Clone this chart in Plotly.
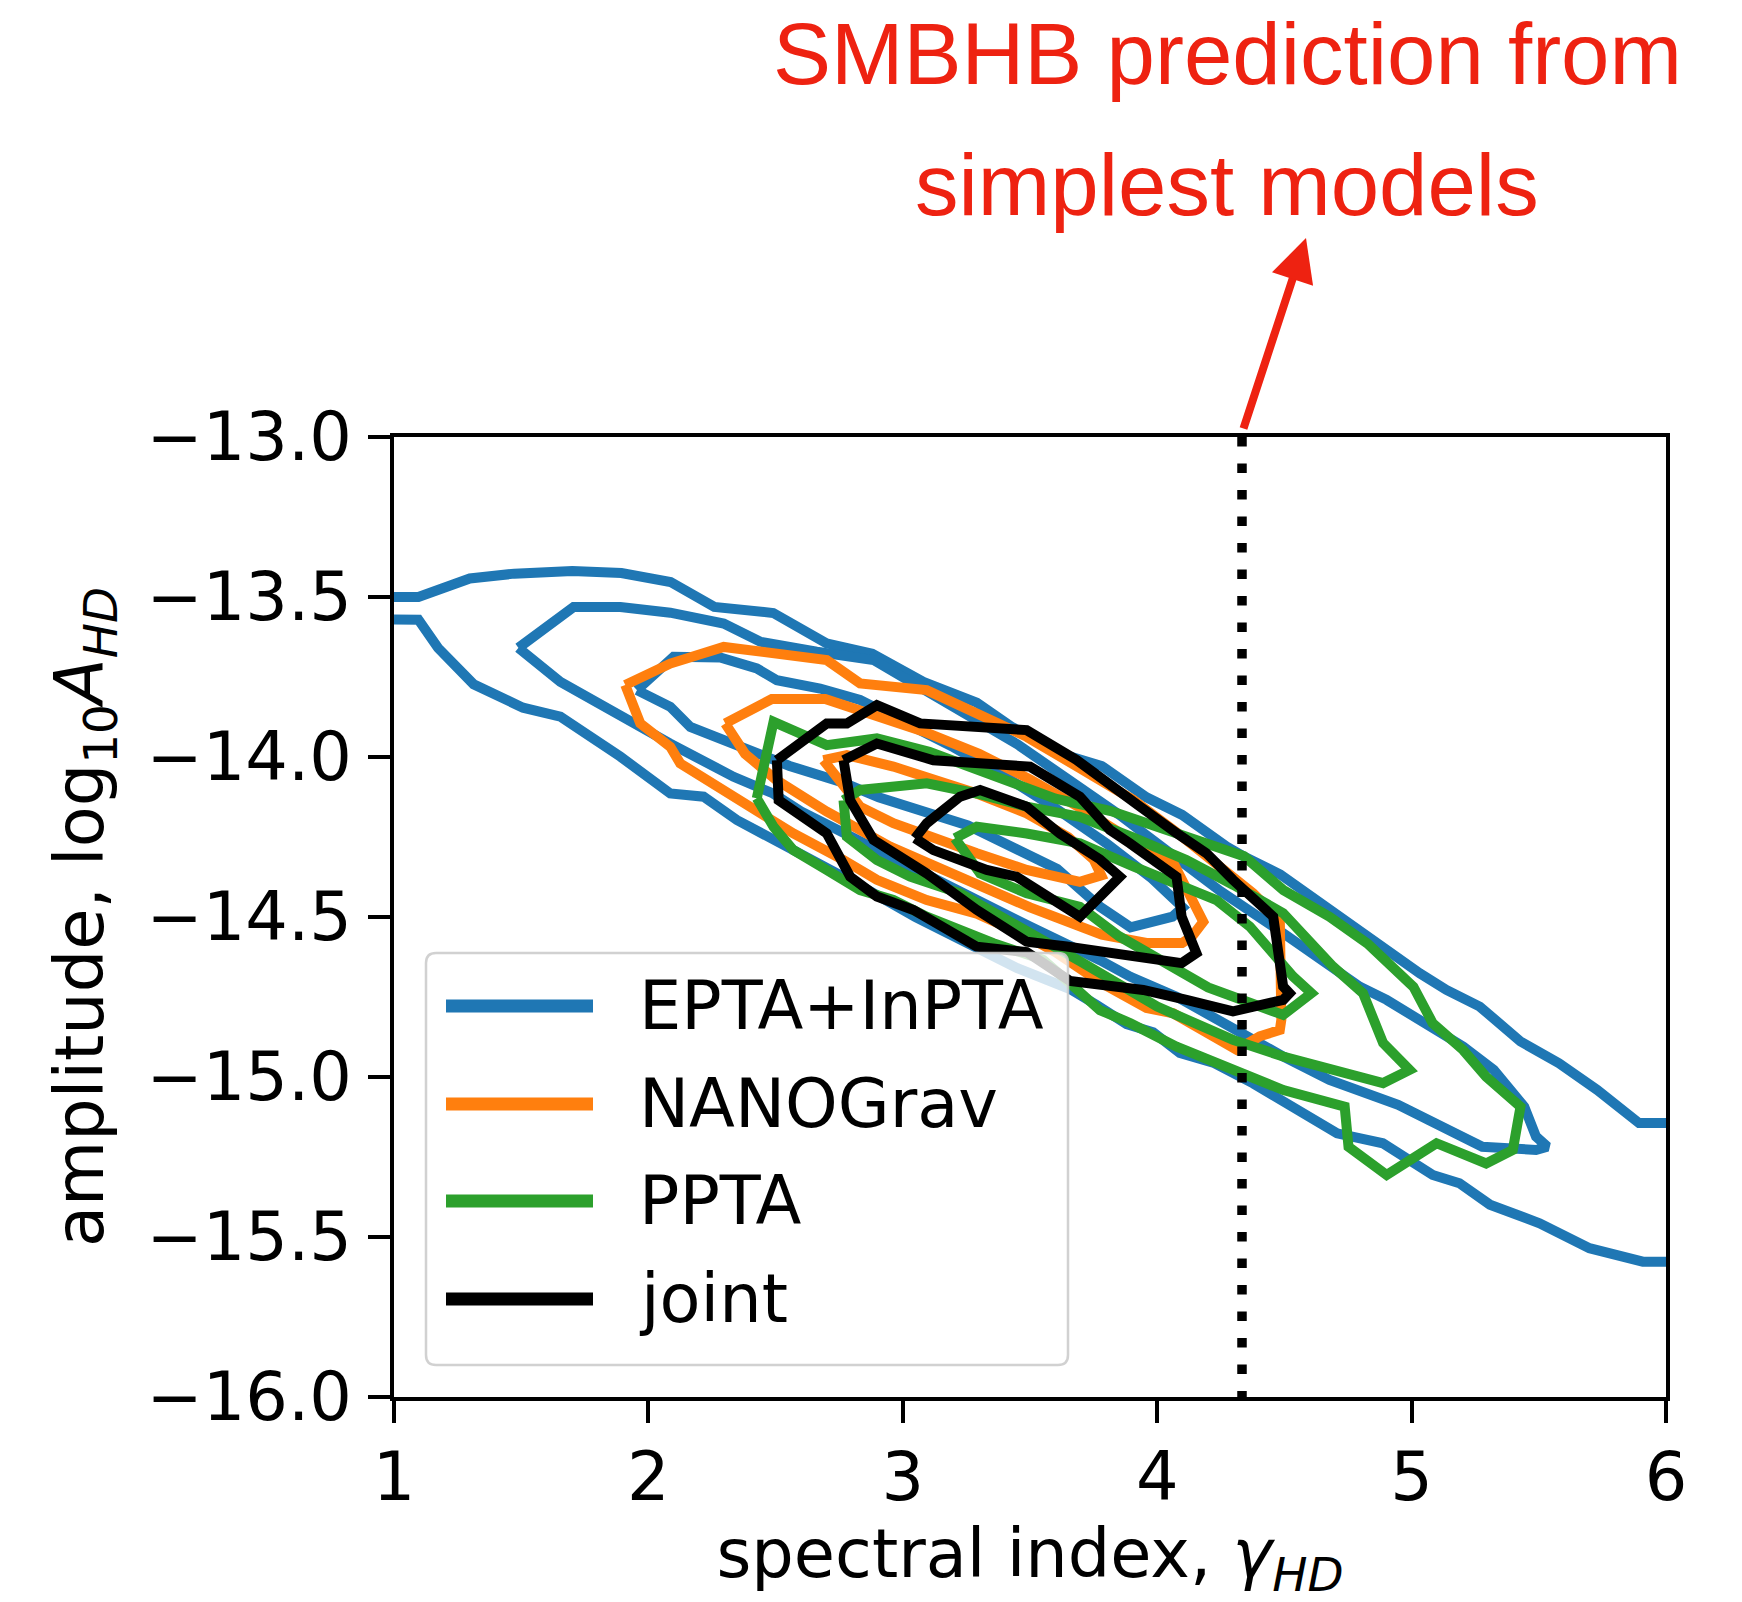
import plotly.graph_objects as go

# ---------------- data ----------------
series_names = ["EPTA+InPTA", "NANOGrav", "PPTA", "joint"]
series_colors = ["#1f77b4", "#ff7f0e", "#2ca02c", "#000000"]

x_ticks = [1, 2, 3, 4, 5, 6]
y_ticks = [-13.0, -13.5, -14.0, -14.5, -15.0, -15.5, -16.0]
y_ticktext = ["\u221213.0", "\u221213.5", "\u221214.0", "\u221214.5", "\u221215.0", "\u221215.5", "\u221216.0"]

smbhb_gamma = 13 / 3  # SMBHB prediction, gamma = 13/3

# EPTA+InPTA outer contour (open at the plot edges): upper and lower branches
epta_outer_top_x = [1.0, 1.096, 1.298, 1.473, 1.701, 1.894, 2.087, 2.259, 2.491, 2.700, 2.880, 3.081, 3.291, 3.431,
                    3.642, 3.782, 3.958, 4.098, 4.273, 4.343, 4.484, 4.639, 4.770, 4.901, 5.032, 5.137, 5.268, 5.428,
                    5.579, 5.729, 5.894, 6.0]
epta_outer_top_y = [-13.50, -13.50, -13.442, -13.427, -13.419, -13.425, -13.453, -13.531, -13.550, -13.645, -13.677,
                    -13.765, -13.830, -13.907, -13.995, -14.028, -14.126, -14.181, -14.280, -14.312, -14.367, -14.457,
                    -14.530, -14.603, -14.676, -14.728, -14.780, -14.889, -14.957, -15.040, -15.144, -15.144]
epta_outer_bot_x = [6.0, 5.909, 5.699, 5.503, 5.308, 5.188, 5.083, 4.887, 4.707, 4.527, 4.377, 4.22, 4.089, 3.984,
                    3.880, 3.762, 3.657, 3.45, 3.25, 3.05, 2.85, 2.649, 2.505, 2.348, 2.217, 2.086, 1.890, 1.654,
                    1.507, 1.313, 1.173, 1.096, 1.0]
epta_outer_bot_y = [-15.577, -15.577, -15.535, -15.457, -15.399, -15.332, -15.306, -15.207, -15.176, -15.087, -15.02,
                    -14.955, -14.925, -14.86, -14.835, -14.775, -14.725, -14.66, -14.58, -14.50, -14.41, -14.322,
                    -14.260, -14.197, -14.124, -14.114, -13.999, -13.874, -13.846, -13.773, -13.659, -13.571, -13.57]

epta_mid_x = [1.489, 1.706, 1.890, 2.086, 2.296, 2.44, 2.662, 2.885, 3.042, 3.25, 3.45, 3.65, 3.85, 4.05, 4.25,
              4.496, 4.647, 4.797, 4.902, 5.068, 5.203, 5.323, 5.443, 5.489, 5.534, 5.489, 5.278, 4.947, 4.677,
              4.496, 4.286, 4.076, 3.895, 3.775, 3.5, 3.2, 2.9, 2.6, 2.49, 2.335, 2.086, 1.916, 1.785, 1.654]
epta_mid_y = [-13.659, -13.531, -13.531, -13.549, -13.583, -13.64, -13.671, -13.697, -13.77, -13.87, -13.96, -14.07,
              -14.18, -14.30, -14.42, -14.551, -14.635, -14.718, -14.759, -14.843, -14.905, -14.978, -15.093, -15.186,
              -15.218, -15.228, -15.218, -15.087, -15.009, -14.936, -14.843, -14.749, -14.687, -14.635, -14.53,
              -14.41, -14.29, -14.17, -14.114, -14.062, -13.958, -13.885, -13.822, -13.765]

epta_in_x = [1.955, 2.099, 2.282, 2.426, 2.505, 2.675, 2.832, 3.0, 3.2, 3.4, 3.6, 3.8, 3.98, 4.10, 4.06, 3.895,
             3.775, 3.607, 3.4, 3.256, 2.905, 2.767, 2.555, 2.348, 2.165, 2.086]
epta_in_y = [-13.791, -13.687, -13.689, -13.723, -13.760, -13.786, -13.822, -13.89, -13.97, -14.06, -14.16, -14.27,
             -14.38, -14.47, -14.499, -14.532, -14.468, -14.35, -14.27, -14.214, -14.126, -14.08, -14.028, -13.96,
             -13.906, -13.843]

# NANOGrav contours
nano_outer_x = [1.909, 2.086, 2.296, 2.505, 2.701, 2.832, 3.094, 3.291, 3.487, 3.696, 3.906, 4.10, 4.298, 4.377,
                4.482, 4.488, 4.488, 4.482, 4.403, 4.312, 4.168, 4.063, 3.958, 3.782, 3.6, 3.487, 3.291, 3.094,
                2.898, 2.767, 2.57, 2.44, 2.309, 2.125, 2.086, 1.968]
nano_outer_y = [-13.775, -13.708, -13.656, -13.677, -13.697, -13.770, -13.791, -13.864, -13.937, -14.035, -14.134,
                -14.25, -14.374, -14.426, -14.509, -14.65, -14.821, -14.853, -14.873, -14.915, -14.853, -14.801,
                -14.784, -14.707, -14.61, -14.56, -14.49, -14.447, -14.384, -14.322, -14.239, -14.176, -14.114,
                -14.020, -13.968, -13.895]

nano_mid_x = [2.302, 2.485, 2.695, 2.905, 3.081, 3.3, 3.5, 3.7, 3.9, 4.063, 4.121, 4.181, 4.136, 4.098, 3.958,
              3.782, 3.5, 3.2, 2.95, 2.7, 2.5, 2.38]
nano_mid_y = [-13.895, -13.819, -13.819, -13.874, -13.92, -13.99, -14.07, -14.16, -14.26, -14.33, -14.416, -14.515,
              -14.562, -14.581, -14.581, -14.555, -14.47, -14.37, -14.28, -14.17, -14.07, -13.99]

nano_in_x = [2.688, 2.78, 2.963, 3.094, 3.291, 3.487, 3.65, 3.75, 3.78, 3.696, 3.487, 3.291, 3.094, 2.963, 2.832,
             2.767]
nano_in_y = [-14.01, -13.994, -14.030, -14.062, -14.114, -14.176, -14.25, -14.32, -14.37, -14.39, -14.353, -14.301,
             -14.249, -14.207, -14.155, -14.093]

# PPTA contours
ppta_outer_x = [2.426, 2.492, 2.701, 2.898, 3.104, 3.35, 3.6, 3.818, 4.081, 4.341, 4.496, 4.677, 4.827, 5.007,
                5.083, 5.203, 5.293, 5.428, 5.398, 5.293, 5.098, 4.902, 4.752, 4.737, 4.496, 4.301, 4.076, 3.895,
                3.775, 3.657, 3.552, 3.356, 3.225, 3.094, 2.963, 2.832, 2.701, 2.57, 2.492]
ppta_outer_y = [-14.129, -13.89, -13.963, -13.942, -13.984, -14.06, -14.13, -14.169, -14.238, -14.31, -14.416,
                -14.499, -14.583, -14.718, -14.832, -14.916, -14.999, -15.093, -15.228, -15.270, -15.207, -15.306,
                -15.218, -15.093, -15.041, -14.978, -14.905, -14.832, -14.791, -14.707, -14.634, -14.582, -14.541,
                -14.499, -14.447, -14.416, -14.353, -14.291, -14.218]

ppta_mid_x = [2.767, 2.832, 3.094, 3.291, 3.487, 3.696, 3.9, 4.115, 4.3, 4.495, 4.691, 4.809, 4.888, 4.992, 4.888,
              4.691, 4.495, 4.298, 4.0, 3.7, 3.5, 3.356, 3.225, 3.029, 2.898, 2.78]
ppta_mid_y = [-14.135, -14.103, -14.082, -14.114, -14.155, -14.187, -14.25, -14.322, -14.40, -14.488, -14.655,
              -14.738, -14.894, -14.978, -15.019, -14.978, -14.936, -14.884, -14.78, -14.64, -14.55, -14.478,
              -14.426, -14.374, -14.322, -14.249]

ppta_in_x = [3.205, 3.291, 3.487, 3.696, 3.906, 4.115, 4.233, 4.364, 4.456, 4.534, 4.606, 4.495, 4.2, 4.0, 3.85,
             3.696, 3.487, 3.304]
ppta_in_y = [-14.254, -14.218, -14.239, -14.27, -14.342, -14.405, -14.447, -14.53, -14.613, -14.686, -14.738,
             -14.806, -14.72, -14.63, -14.56, -14.468, -14.426, -14.364]

# joint contours
joint_outer_x = [2.505, 2.701, 2.78, 2.898, 3.068, 3.487, 3.683, 3.814, 3.932, 4.076, 4.194, 4.298, 4.456, 4.495,
                 4.52, 4.495, 4.298, 4.115, 3.945, 3.657, 3.487, 3.291, 3.225, 3.042, 2.898, 2.793, 2.701, 2.512]
joint_outer_y = [-14.010, -13.895, -13.895, -13.838, -13.895, -13.916, -14.009, -14.082, -14.155, -14.238, -14.301,
                 -14.384, -14.499, -14.717, -14.738, -14.759, -14.795, -14.759, -14.728, -14.70, -14.61, -14.593,
                 -14.561, -14.478, -14.436, -14.374, -14.239, -14.135]

joint_mid_x = [2.767, 2.898, 3.120, 3.382, 3.5, 3.696, 3.814, 3.893, 4.076, 4.096, 4.154, 4.096, 3.945, 3.644,
               3.487, 3.291, 3.094, 2.885, 2.793]
joint_mid_y = [-14.010, -13.958, -14.010, -14.02, -14.030, -14.124, -14.228, -14.27, -14.374, -14.499, -14.613,
               -14.644, -14.624, -14.592, -14.577, -14.478, -14.364, -14.259, -14.135]

joint_in_x = [3.048, 3.094, 3.225, 3.304, 3.487, 3.618, 3.775, 3.853, 3.696, 3.5, 3.447, 3.33, 3.12]
joint_in_y = [-14.254, -14.207, -14.124, -14.103, -14.155, -14.24, -14.32, -14.374, -14.499, -14.40, -14.374,
              -14.353, -14.291]


def closed(xs, ys):
    return list(xs) + [xs[0]], list(ys) + [ys[0]]


LW = 10

fig = go.Figure()


def add_line(xs, ys, color, name):
    fig.add_trace(go.Scatter(x=xs, y=ys, mode="lines", name=name, showlegend=False,
                             line=dict(color=color, width=LW), hoverinfo="skip"))


# EPTA+InPTA
ex = epta_outer_top_x + [None] + epta_outer_bot_x
ey = epta_outer_top_y + [None] + epta_outer_bot_y
add_line(ex, ey, series_colors[0], series_names[0])
for xs, ys in [(epta_mid_x, epta_mid_y), (epta_in_x, epta_in_y)]:
    cx, cy = closed(xs, ys)
    add_line(cx, cy, series_colors[0], series_names[0])

# NANOGrav
for xs, ys in [(nano_outer_x, nano_outer_y), (nano_mid_x, nano_mid_y), (nano_in_x, nano_in_y)]:
    cx, cy = closed(xs, ys)
    add_line(cx, cy, series_colors[1], series_names[1])

# PPTA
for xs, ys in [(ppta_outer_x, ppta_outer_y), (ppta_mid_x, ppta_mid_y), (ppta_in_x, ppta_in_y)]:
    cx, cy = closed(xs, ys)
    add_line(cx, cy, series_colors[2], series_names[2])

# joint
for xs, ys in [(joint_outer_x, joint_outer_y), (joint_mid_x, joint_mid_y), (joint_in_x, joint_in_y)]:
    cx, cy = closed(xs, ys)
    add_line(cx, cy, series_colors[3], series_names[3])

# SMBHB prediction: dotted vertical line
fig.add_trace(go.Scatter(x=[smbhb_gamma, smbhb_gamma], y=[-13.0, -16.0], mode="lines", showlegend=False,
                         line=dict(color="black", width=9.5, dash="9.5px,17px"), hoverinfo="skip"))

# ---------------- layout ----------------
W, H = 1742, 1602
ML, MR, MT, MB = 394, 76, 437, 205
PW, PH = W - ML - MR, H - MT - MB


def px2paper(X, Y):
    return (X - ML) / PW, (H - MB - Y) / PH


FONT = "DejaVu Sans"
FS = 67

axis_common = dict(showgrid=False, zeroline=False, showline=True, linecolor="black", linewidth=3.5,
                   mirror=True, ticks="outside", ticklen=22, tickwidth=3.5, tickcolor="black",
                   automargin=False,
                   tickfont=dict(family=FONT, size=FS, color="black"))

fig.update_layout(
    width=W, height=H,
    margin=dict(l=ML, r=MR, t=MT, b=MB, pad=0, autoexpand=False),
    paper_bgcolor="white", plot_bgcolor="white",
    showlegend=False,
    xaxis=dict(range=[1, 6], tickmode="array", tickvals=x_ticks, ticktext=[str(v) for v in x_ticks],
               ticklabelstandoff=-3,
               title=dict(text="spectral index, <i>\u03b3</i><sub><i>HD</i></sub>",
                          font=dict(family=FONT, size=FS, color="black"), standoff=46),
               **axis_common),
    yaxis=dict(range=[-16, -13], tickmode="array", tickvals=y_ticks, ticktext=y_ticktext,
               ticklabelstandoff=3,
               title=dict(text="amplitude, log<sub>10</sub><i>A</i><sub><i>HD</i></sub>",
                          font=dict(family=FONT, size=FS, color="black"), standoff=22),
               **axis_common),
)

# ---------------- custom legend ----------------
lx0, ly0 = px2paper(426, 953)
lx1, ly1 = px2paper(1068, 1365)
rx, ry = 10 / PW, 10 / PH
path = (f"M{lx0 + rx},{ly0} L{lx1 - rx},{ly0} Q{lx1},{ly0} {lx1},{ly0 - ry} "
        f"L{lx1},{ly1 + ry} Q{lx1},{ly1} {lx1 - rx},{ly1} L{lx0 + rx},{ly1} Q{lx0},{ly1} {lx0},{ly1 + ry} "
        f"L{lx0},{ly0 - ry} Q{lx0},{ly0} {lx0 + rx},{ly0} Z")
shapes = [dict(type="path", path=path, xref="paper", yref="paper", layer="above",
               fillcolor="rgba(255,255,255,0.8)", line=dict(color="rgba(204,204,204,0.9)", width=2.5))]
annotations = []
entry_y = [1006, 1104, 1201, 1299]
for name, color, yy in zip(series_names, series_colors, entry_y):
    a0, b0 = px2paper(446, yy)
    a1, _ = px2paper(593, yy)
    shapes.append(dict(type="line", xref="paper", yref="paper", x0=a0, x1=a1, y0=b0, y1=b0, layer="above",
                       line=dict(color=color, width=13)))
    tx, ty = px2paper(637, yy)
    annotations.append(dict(xref="paper", yref="paper", x=tx, y=ty, xanchor="left", yanchor="middle",
                            text=name, showarrow=False, font=dict(family=FONT, size=FS, color="black")))

# ---------------- red annotation + arrow ----------------
RED = "#ee2211"
t1x, t1y = px2paper(1227, 53)
t2x, t2y = px2paper(1227, 184)
annotations.append(dict(xref="paper", yref="paper", x=t1x, y=t1y, xanchor="center", yanchor="middle",
                        text="SMBHB prediction from", showarrow=False,
                        font=dict(family="Liberation Sans", size=87, color=RED)))
annotations.append(dict(xref="paper", yref="paper", x=t2x, y=t2y, xanchor="center", yanchor="middle",
                        text="simplest models", showarrow=False,
                        font=dict(family="Liberation Sans", size=87, color=RED)))
tipx, tipy = px2paper(1306, 238)
annotations.append(dict(xref="paper", yref="paper", x=tipx, y=tipy, axref="pixel", ayref="pixel",
                        ax=-63, ay=192, text="", showarrow=True, arrowhead=2, arrowsize=1.08,
                        arrowwidth=8, arrowcolor=RED))

fig.update_layout(shapes=shapes, annotations=annotations)

fig.write_html("out.html")
